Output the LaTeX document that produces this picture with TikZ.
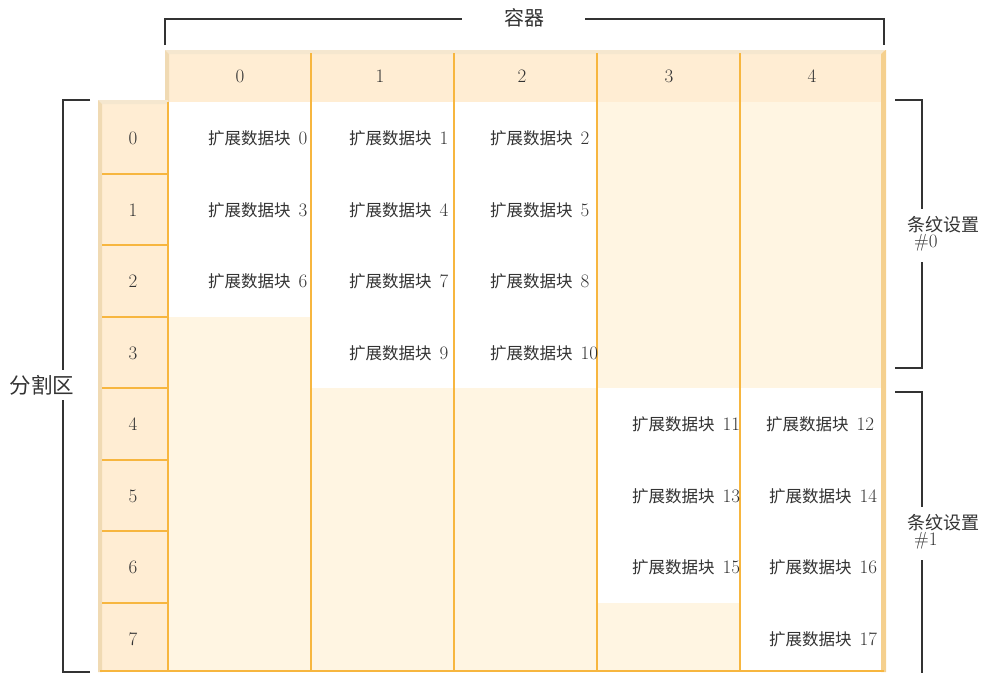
\documentclass[tikz,border=0pt]{standalone}
\usepackage{fontspec}
\newfontfamily\cjk{Noto Sans CJK SC}
\definecolor{hdrfill}{HTML}{FFEDD3}
\definecolor{bodyfill}{HTML}{FFF5E2}
\definecolor{beveltop}{HTML}{F5E7CF}
\definecolor{bevelleft}{HTML}{F0DAB3}
\definecolor{gridorange}{HTML}{F7B63F}
\definecolor{edgeorange}{HTML}{F5D08E}
\definecolor{bracegray}{HTML}{333333}
\tikzset{
  gridline/.style={draw=gridorange, line width=2pt},
  bracket/.style={draw=bracegray, line width=1.5pt},
  extent/.style={anchor=west, inner sep=0pt, text=black!80},
  index/.style={font=\fontsize{19}{21}\selectfont, inner sep=0pt, text=black!80},
  title/.style={font=\cjk\fontsize{20}{22}\selectfont, inner sep=0pt, text=black!80},
  stripe/.style={font=\cjk\fontsize{18}{20}\selectfont, anchor=west, inner sep=0pt, text=black!80},
}
\newcommand{\ext}[1]{{\cjk\fontsize{16.5}{18}\selectfont 扩展数据块}\hspace{8pt}{\fontsize{19}{21}\selectfont #1}}
\begin{document}
\begin{tikzpicture}[x=1pt,y=-1pt]
	  \useasboundingbox (0,0) rectangle (986,673);

	  % body of the grid
	  \fill [bodyfill] (168,102) rectangle (884,672);
	  \fill [white] (168,102) rectangle (311,317);
	  \fill [white] (311,102) rectangle (454,388);
	  \fill [white] (454,102) rectangle (597,388);
	  \fill [white] (597,388) rectangle (740,603);
	  \fill [white] (740,388) rectangle (884,672);

	  % column header
	  \fill [hdrfill] (165,50) rectangle (884,102);
	  \fill [beveltop] (165,50) -- (884,50) -- (880,54) -- (169,54) -- cycle;
	  \fill [bevelleft] (165,50) -- (169,54) -- (169,102) -- (165,102) -- cycle;

	  % row header
	  \fill [hdrfill] (98,100) rectangle (168,672);
	  \fill [beveltop] (98,100) -- (168,100) -- (168,104) -- (102,104) -- cycle;
	  \fill [bevelleft] (98,100) -- (102,104) -- (102,672) -- (98,672) -- cycle;

	  % right edge
	  \fill [edgeorange] (881,54) -- (885,50) -- (886,50) -- (886,672) -- (881,672) -- cycle;

	  % grid lines
	  \draw [gridline] (168,102)--(168,672);
	  \draw [gridline] (311,53)--(311,672);
	  \draw [gridline] (454,53)--(454,672);
	  \draw [gridline] (597,53)--(597,672);
	  \draw [gridline] (740,53)--(740,672);
	  \draw [gridline] (100,671)--(884,671);
	  \draw [gridline] (102,174)--(168,174);
	  \draw [gridline] (102,245)--(168,245);
	  \draw [gridline] (102,317)--(168,317);
	  \draw [gridline] (102,388)--(168,388);
	  \draw [gridline] (102,460)--(168,460);
	  \draw [gridline] (102,531)--(168,531);
	  \draw [gridline] (102,603)--(168,603);

	  % column numbers
	  \node [index] (c0) at (240,76) {0};
	  \node [index] (c1) at (380,76) {1};
	  \node [index] (c2) at (522,76) {2};
	  \node [index] (c3) at (669,76) {3};
	  \node [index] (c4) at (812,76) {4};

	  % row numbers
	  \node [index] (r0) at (133,138) {0};
	  \node [index] (r1) at (133,210) {1};
	  \node [index] (r2) at (133,281) {2};
	  \node [index] (r3) at (133,353) {3};
	  \node [index] (r4) at (133,424) {4};
	  \node [index] (r5) at (133,496) {5};
	  \node [index] (r6) at (133,567) {6};
	  \node [index] (r7) at (133,639) {7};

	  % extents
	  \node [extent] (e0) at (208,138) {\ext{0}};
	  \node [extent] (e3) at (208,210) {\ext{3}};
	  \node [extent] (e6) at (208,281) {\ext{6}};
	  \node [extent] (e1) at (349,138) {\ext{1}};
	  \node [extent] (e4) at (349,210) {\ext{4}};
	  \node [extent] (e7) at (349,281) {\ext{7}};
	  \node [extent] (e9) at (349,353) {\ext{9}};
	  \node [extent] (e2) at (490,138) {\ext{2}};
	  \node [extent] (e5) at (490,210) {\ext{5}};
	  \node [extent] (e8) at (490,281) {\ext{8}};
	  \node [extent] (e10) at (490,353) {\ext{10}};
	  \node [extent] (e11) at (632,424) {\ext{11}};
	  \node [extent] (e13) at (632,496) {\ext{13}};
	  \node [extent] (e15) at (632,567) {\ext{15}};
	  \node [extent] (e12) at (766,424) {\ext{12}};
	  \node [extent] (e14) at (769,496) {\ext{14}};
	  \node [extent] (e16) at (769,567) {\ext{16}};
	  \node [extent] (e17) at (769,639) {\ext{17}};

	  % container bracket
	  \node [title] (container) at (524,18) {容器};
	  \draw [bracket] (165,45)--(165,19)--(462,19);
	  \draw [bracket] (585,19)--(884,19)--(884,45);

	  % partition bracket
	  \node [title, font=\cjk\fontsize{21.5}{23}\selectfont] (partition) at (42,385) {分割区};
	  \draw [bracket] (90,100)--(63,100)--(63,370);
	  \draw [bracket] (63,400)--(63,672)--(90,672);

	  % stripe set brackets
	  \node [stripe] (set0) at (907,225) {条纹设置};
	  \node [index, anchor=west] (set0n) at (914,243) {\#0};
	  \draw [bracket] (895,100)--(922,100)--(922,209);
	  \draw [bracket] (922,262)--(922,368)--(895,368);

	  \node [stripe] (set1) at (907,523) {条纹设置};
	  \node [index, anchor=west] (set1n) at (914,541) {\#1};
	  \draw [bracket] (895,392)--(922,392)--(922,507);
	  \draw [bracket] (922,560)--(922,673);
	\end{tikzpicture}
\end{document}
